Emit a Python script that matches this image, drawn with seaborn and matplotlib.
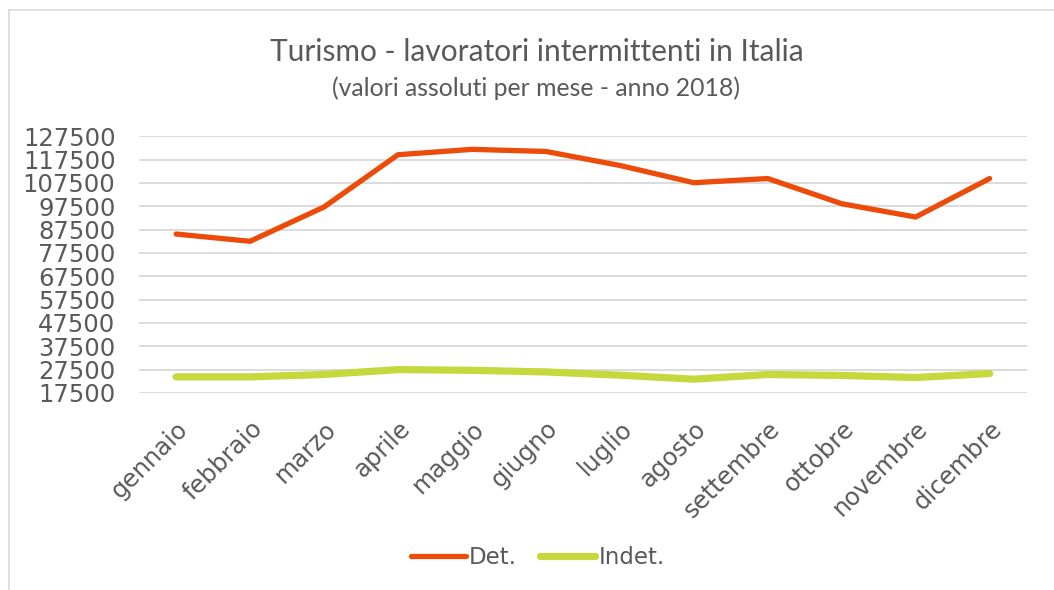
import seaborn as sns
import pandas as pd
import matplotlib.pyplot as plt
from matplotlib.patches import Rectangle

mesi = ['gennaio', 'febbraio', 'marzo', 'aprile', 'maggio', 'giugno',
        'luglio', 'agosto', 'settembre', 'ottobre', 'novembre', 'dicembre']
det = [85600, 82500, 97200, 119600, 121900, 121000,
       115000, 107600, 109400, 98600, 92900, 109400]
indet = [24400, 24400, 25400, 27500, 27200, 26500,
         25100, 23400, 25400, 25000, 24100, 25800]
yticks = list(range(17500, 127501, 10000))

df = pd.DataFrame({'mese': mesi * 2,
                   'valore': det + indet,
                   'tipo': ['Det.'] * 12 + ['Indet.'] * 12})

sns.set_style('white')
plt.rcParams['font.family'] = ['DejaVu Sans']
grigio = '#595959'

fig = plt.figure(figsize=(10.54, 5.9), dpi=100)
ax = fig.add_axes([0.132, 0.334, 0.842, 0.435])

sns.lineplot(data=df, x='mese', y='valore', hue='tipo', sort=False,
             palette={'Det.': '#EC4B0A', 'Indet.': '#C5D83E'}, ax=ax,
             legend=False)
ax.lines[0].set_linewidth(3.8)
ax.lines[1].set_linewidth(5.2)
for l in ax.lines:
    l.set_solid_capstyle('round')
    l.set_solid_joinstyle('round')

ax.set_xlim(-0.5, 11.5)
ax.set_ylim(17500, 127500)
ax.set_yticks(yticks)
ax.set_yticklabels([str(v) for v in yticks])
ax.yaxis.grid(True, color='#d9d9d9', linewidth=1.3)
ax.set_axisbelow(True)
for s in ax.spines.values():
    s.set_visible(False)
ax.tick_params(axis='y', length=0, labelsize=17.5, labelcolor=grigio, pad=17)
ax.tick_params(axis='x', length=0, labelsize=17.5, labelcolor=grigio, pad=17)
plt.setp(ax.get_xticklabels(), rotation=45, ha='right', rotation_mode='anchor')
ax.set_xlabel('')
ax.set_ylabel('')

fig.text(0.509, 0.912, 'Turismo - lavoratori intermittenti in Italia',
         ha='center', va='center', fontsize=21.5, color=grigio,
         family=['Lato', 'DejaVu Sans'])
fig.text(0.509, 0.851, '(valori assoluti per mese - anno 2018)',
         ha='center', va='center', fontsize=17.8, color=grigio,
         family=['Lato', 'DejaVu Sans'])

h = [plt.Line2D([], [], color='#EC4B0A', lw=3.8, solid_capstyle='round'),
     plt.Line2D([], [], color='#C5D83E', lw=5.2, solid_capstyle='round')]
leg = fig.legend(h, ['Det.', 'Indet.'], loc='center', bbox_to_anchor=(0.51, 0.055),
                 ncol=2, frameon=False, fontsize=16.5, handlelength=2.4,
                 handletextpad=0.15, columnspacing=1.0)
for t in leg.get_texts():
    t.set_color(grigio)

fig.patches.append(Rectangle((0.009, -0.05), 1.1, 1.033, transform=fig.transFigure,
                             fill=False, edgecolor='#d9d9d9', linewidth=1.2))

fig.savefig('out.png', dpi=100)
